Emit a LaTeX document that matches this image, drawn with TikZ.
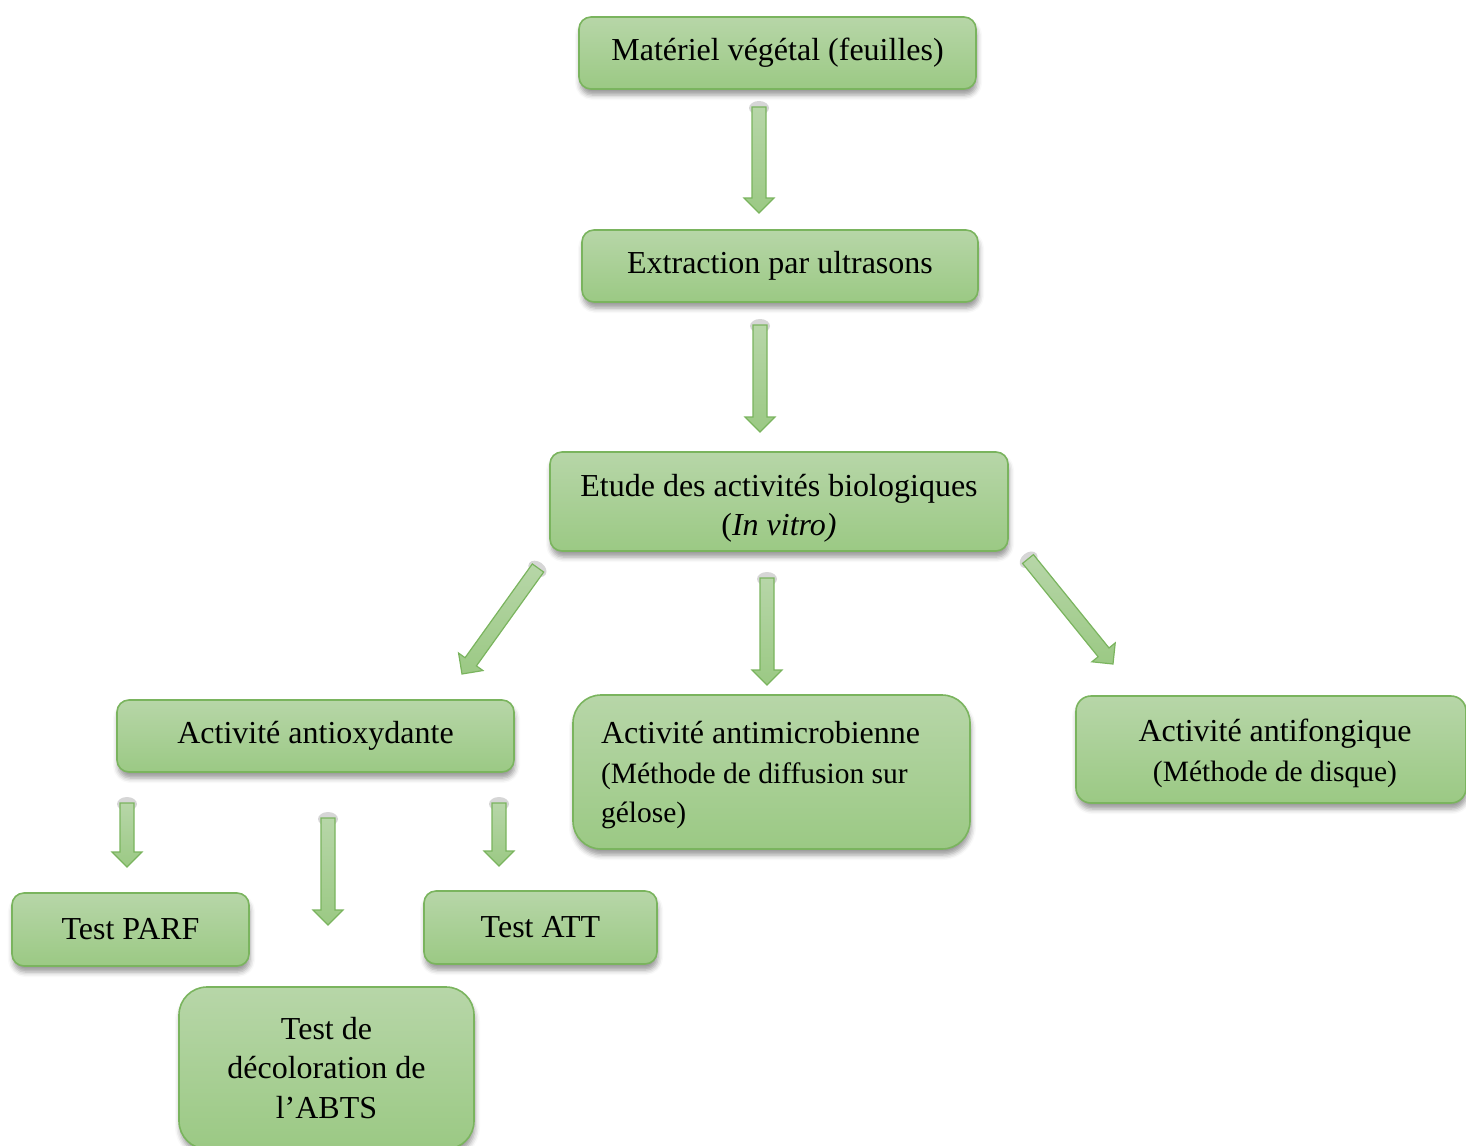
\documentclass[tikz,border=0pt]{standalone}
\usepackage{fontspec}
\setmainfont{Liberation Serif}
\usetikzlibrary{shadows,shadows.blur,calc}
\definecolor{gtop}{RGB}{183,214,168}
\definecolor{gbot}{RGB}{155,201,132}
\definecolor{gline}{RGB}{122,180,94}
\newcommand\mainf{\fontsize{32}{39.5}\selectfont}
\newcommand\subf{\fontsize{29.5}{40}\selectfont}
\tikzset{
  box/.style={draw=gline, line width=1.6pt, top color=gtop, bottom color=gbot,
    rounded corners=12pt, inner sep=0pt, align=center, font=\mainf,
    blur shadow={shadow xshift=1pt, shadow yshift=-6pt, shadow blur radius=5pt, shadow opacity=40}},
  arrowbody/.style={draw=gline, line width=1.2pt, top color=gtop, bottom color=gbot},
  tailshadow/.style={fill=black, opacity=0.16}
}
\newcommand\blockarrow[2]{%
  \path let \p1=(#1), \p2=(#2),
    \n1={atan2(\y2-\y1,\x2-\x1)} in
    [shift={(\p1)}, rotate=\n1]
    [tailshadow] (1,0) ellipse (7pt and 10pt) (2,0) ellipse (5.5pt and 8pt) (3,0) ellipse (4pt and 6pt);
  \path[arrowbody] let \p1=(#1), \p2=(#2),
    \n1={atan2(\y2-\y1,\x2-\x1)}, \n2={veclen(\x2-\x1,\y2-\y1)} in
    [shift={(\p1)}, rotate=\n1] (0,7) -- ({\n2-15},7) -- ({\n2-15},15) -- (\n2,0)
    -- ({\n2-15},-15) -- ({\n2-15},-7) -- (0,-7) -- cycle;}
\begin{document}
\begin{tikzpicture}[x=1pt,y=-1pt]
\useasboundingbox (0,0) rectangle (1466,1145);
% boxes
\node[box, minimum width=397pt, minimum height=72pt] (mat) at (777.5,53) {Matériel végétal (feuilles)};
\node[box, minimum width=396pt, minimum height=72pt] (ext) at (780,266) {Extraction par ultrasons};
\node[box, minimum width=458pt, minimum height=99pt] (etu) at (779,501.5) {\rule{0pt}{36pt}Etude des activités biologiques\\(\textit{In vitro)}};
\node[box, minimum width=397pt, minimum height=72pt] (aox) at (315.5,736) {Activité antioxydante};
\node[box, rounded corners=28pt, minimum height=154pt, text width=341pt, inner xsep=28pt, align=flush left] (ami) at (771.5,772)
  {\rule{0pt}{28pt}Activité antimicrobienne\\\subf(Méthode de diffusion sur\\\subf gélose)};
\node[box, rounded corners=15pt, minimum width=390pt, minimum height=107pt] (afo) at (1271,749.5)
  {\rule{0pt}{30pt}\hspace{8pt}Activité antifongique\\\subf\hspace{8pt}(Méthode de disque)};
\node[box, minimum width=237pt, minimum height=73pt] (parf) at (130.5,929.5) {Test PARF};
\node[box, minimum width=233pt, minimum height=73pt] (att) at (540.5,927.5) {Test ATT};
\node[box, rounded corners=28pt, minimum width=295pt, minimum height=162pt] (abts) at (326.5,1068)
  {Test de\\décoloration de\\l’ABTS};
% arrow end points
\coordinate (a1s) at (759,107);  \coordinate (a1e) at (759,213);
\coordinate (a2s) at (760,325);  \coordinate (a2e) at (760,432);
\coordinate (a3s) at (767,578);  \coordinate (a3e) at (767,685);
\coordinate (aLs) at (538,568);  \coordinate (aLe) at (462,674);
\coordinate (aRs) at (1028,559); \coordinate (aRe) at (1113,664);
\coordinate (a4s) at (127,803);  \coordinate (a4e) at (127,867);
\coordinate (a5s) at (328,818);  \coordinate (a5e) at (328,925);
\coordinate (a6s) at (499,803);  \coordinate (a6e) at (499,866);
\foreach \s/\e in {a1s/a1e,a2s/a2e,a3s/a3e,aLs/aLe,aRs/aRe,a4s/a4e,a5s/a5e,a6s/a6e}{
  \blockarrow{\s}{\e}
}
\end{tikzpicture}
\end{document}
